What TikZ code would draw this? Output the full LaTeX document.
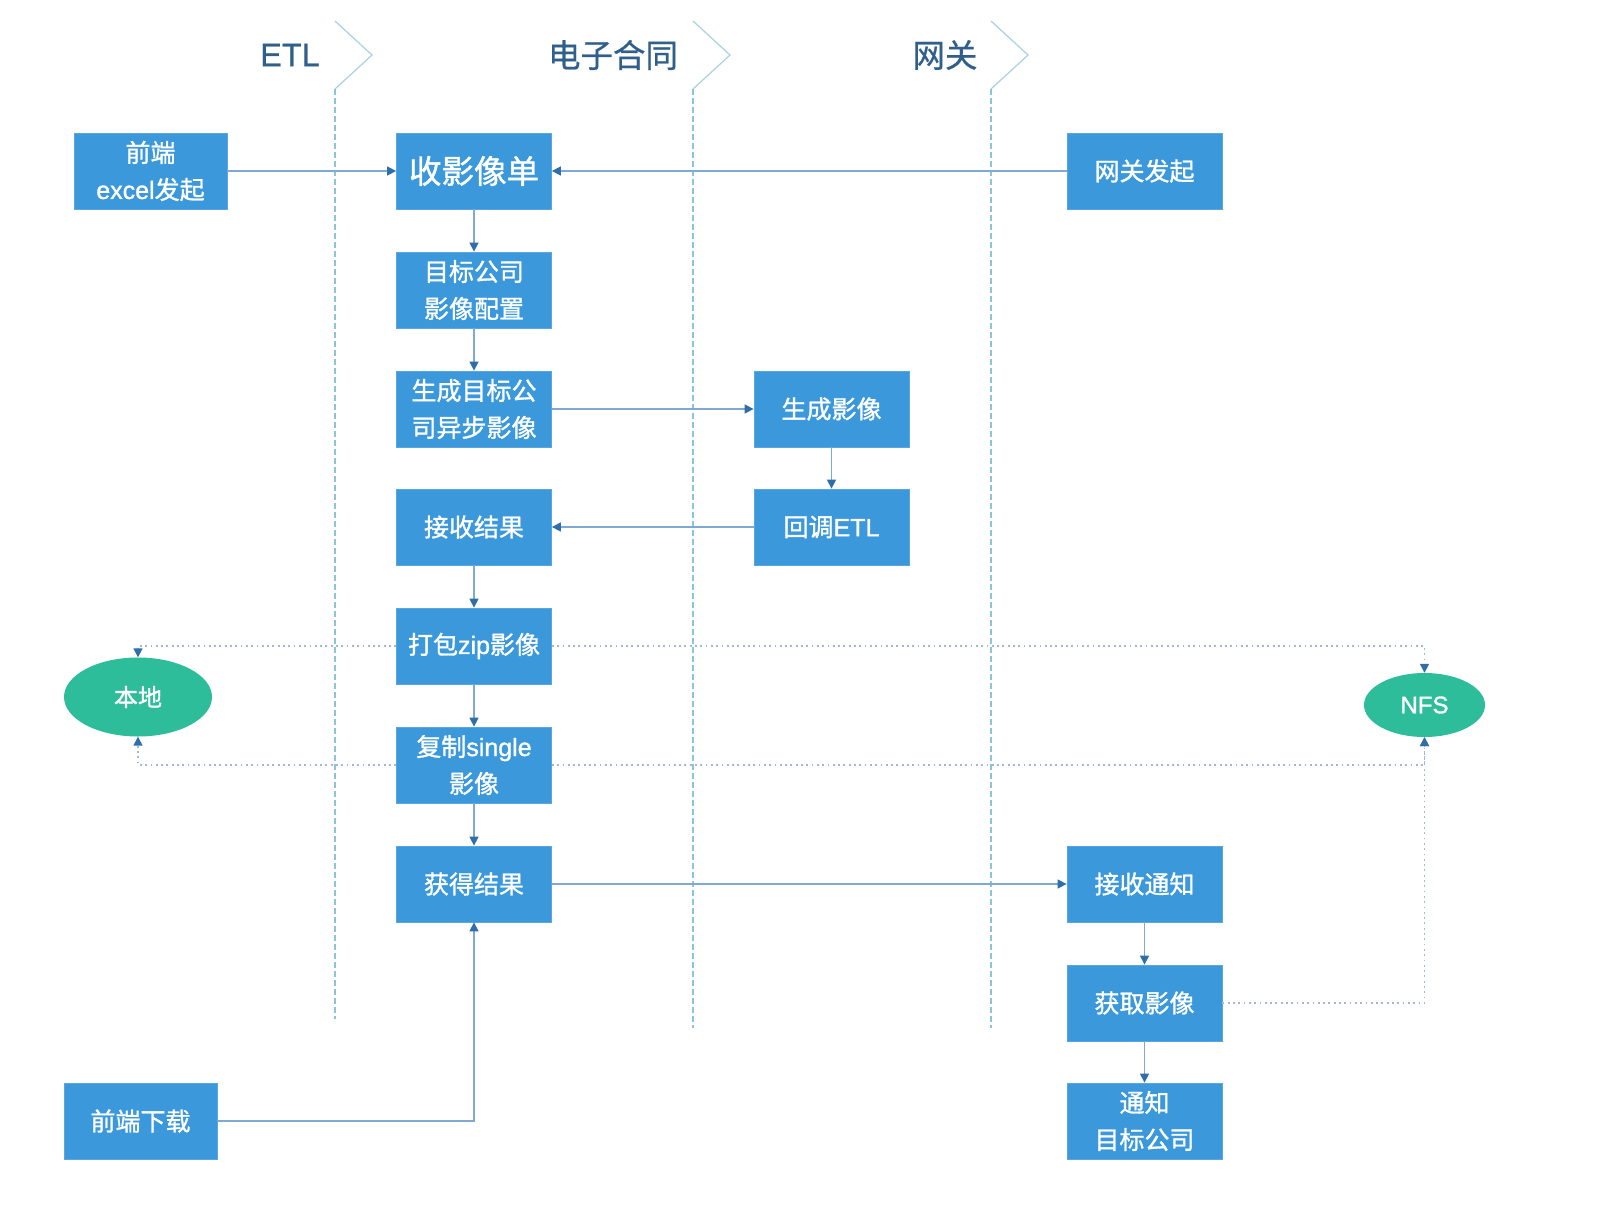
\documentclass[tikz,border=0pt]{standalone}
\usepackage{fontspec}
\setmainfont{Liberation Sans}
\newfontfamily\cjk{Noto Sans CJK SC}[FakeBold=1.2]
\newfontfamily\lat{Liberation Sans}[FakeBold=1.2]
\newfontfamily\cjkt{Noto Sans CJK SC}[FakeBold=0.6]
\newfontfamily\latt{Liberation Sans}[FakeBold=0.6]
\usetikzlibrary{arrows.meta,shapes.geometric}
\definecolor{boxblue}{HTML}{3A98DB}
\definecolor{tealgreen}{HTML}{2DBD9B}
\definecolor{linkblue}{HTML}{7FA9D3}
\definecolor{tipblue}{HTML}{2F6EA8}
\definecolor{lanecol}{HTML}{8CC4D8}
\definecolor{chevcol}{HTML}{A6D3DE}
\definecolor{titlecol}{HTML}{2F5F8A}
\definecolor{dotcol}{HTML}{A3B8CE}
\tikzset{
  procbox/.style={rectangle,fill=boxblue,draw=boxblue!85!white,line width=0.8pt,minimum width=155pt,minimum height=76pt,inner sep=0pt,text=white,align=center,font=\fontsize{25}{37}\selectfont},
  store/.style={ellipse,fill=tealgreen,inner sep=0pt,text=white,font=\fontsize{24}{30}\selectfont},
  link/.style={draw=linkblue,line width=1.4pt,-{Triangle[width=9pt,length=9pt,color=tipblue]}},
  dotlink/.style={draw=dotcol,line width=1.5pt,dash pattern=on 1.8pt off 3.5pt,-{Triangle[width=9pt,length=9pt,color=tipblue]}},
  lane/.style={draw=lanecol,line width=1.2pt,dash pattern=on 6pt off 3pt},
  chev/.style={draw=chevcol,line width=1.2pt},
  lanetitle/.style={text=titlecol,font=\fontsize{32.5}{36}\selectfont,inner sep=0pt}
}
\begin{document}
\begin{tikzpicture}[x=1pt,y=-1pt]
\useasboundingbox[fill=white] (0,0) rectangle (1604,1210);
% lane titles
\node[lanetitle] (tetl) at (290,55) {\latt ETL};
\node[lanetitle] (tec) at (613,55) {\cjkt 电子合同};
\node[lanetitle] (tgw) at (945,55) {\cjkt 网关};
% lane separators
\foreach \lx/\ly in {335/1019,693/1028,991/1028}{
  \draw[chev] (\lx,21) -- (\lx+37,55) -- (\lx,89);
  \draw[lane] (\lx,89) -- (\lx,\ly);
}
% boxes
\node[procbox,minimum width=153pt] (fe) at (150.5,171) {{\cjk 前端}\\{\lat excel}{\cjk 发起}};
\node[procbox,font=\fontsize{32.5}{37}\selectfont] (sy) at (474,171) {\cjk 收影像单};
\node[procbox] (gw) at (1144.5,171) {\cjk 网关发起};
\node[procbox] (mb) at (474,290) {{\cjk 目标公司}\\{\cjk 影像配置}};
\node[procbox] (sc) at (474,409) {{\cjk 生成目标公}\\{\cjk 司异步影像}};
\node[procbox] (syx) at (831.5,409) {\cjk 生成影像};
\node[procbox] (hd) at (831.5,527) {{\cjk 回调}{\lat ETL}};
\node[procbox] (js) at (474,527) {\cjk 接收结果};
\node[procbox] (db) at (474,646) {{\cjk 打包}{\lat zip}{\cjk 影像}};
\node[procbox] (fz) at (474,765) {{\cjk 复制}{\lat single}\\{\cjk 影像}};
\node[procbox] (hj) at (474,884) {\cjk 获得结果};
\node[procbox] (jt) at (1144.5,884) {\cjk 接收通知};
\node[procbox] (hq) at (1144.5,1003) {\cjk 获取影像};
\node[procbox] (tz) at (1144.5,1121) {{\cjk 通知}\\{\cjk 目标公司}};
\node[procbox,minimum width=153pt] (xz) at (140.5,1121) {\cjk 前端下载};
\node[store,minimum width=148pt,minimum height=79pt] (bd) at (138,697) {\cjk 本地};
\node[store,minimum width=121pt,minimum height=64pt] (nfs) at (1424.5,705) {\lat NFS};
% connectors
\draw[link] (fe) -- (sy);
\draw[link] (gw) -- (sy);
\draw[link] (sy) -- (mb);
\draw[link] (mb) -- (sc);
\draw[link] (sc) -- (syx);
\draw[link] (syx) -- (hd);
\draw[link] (hd) -- (js);
\draw[link] (js) -- (db);
\draw[link] (db) -- (fz);
\draw[link] (fz) -- (hj);
\draw[link] (hj) -- (jt);
\draw[link] (jt) -- (hq);
\draw[link] (hq) -- (tz);
\draw[link] (xz.east) -| (hj.south);
% dotted storage links
\draw[dotlink] (db.west) -| (bd.north);
\draw[dotlink] (db.east) -| (nfs.north);
\draw[dotlink] (fz.west) -| (bd.south);
\draw[dotlink] (fz.east) -| (nfs.south);
\draw[dotlink] (hq.east) -| (nfs.south);
\end{tikzpicture}
\end{document}
